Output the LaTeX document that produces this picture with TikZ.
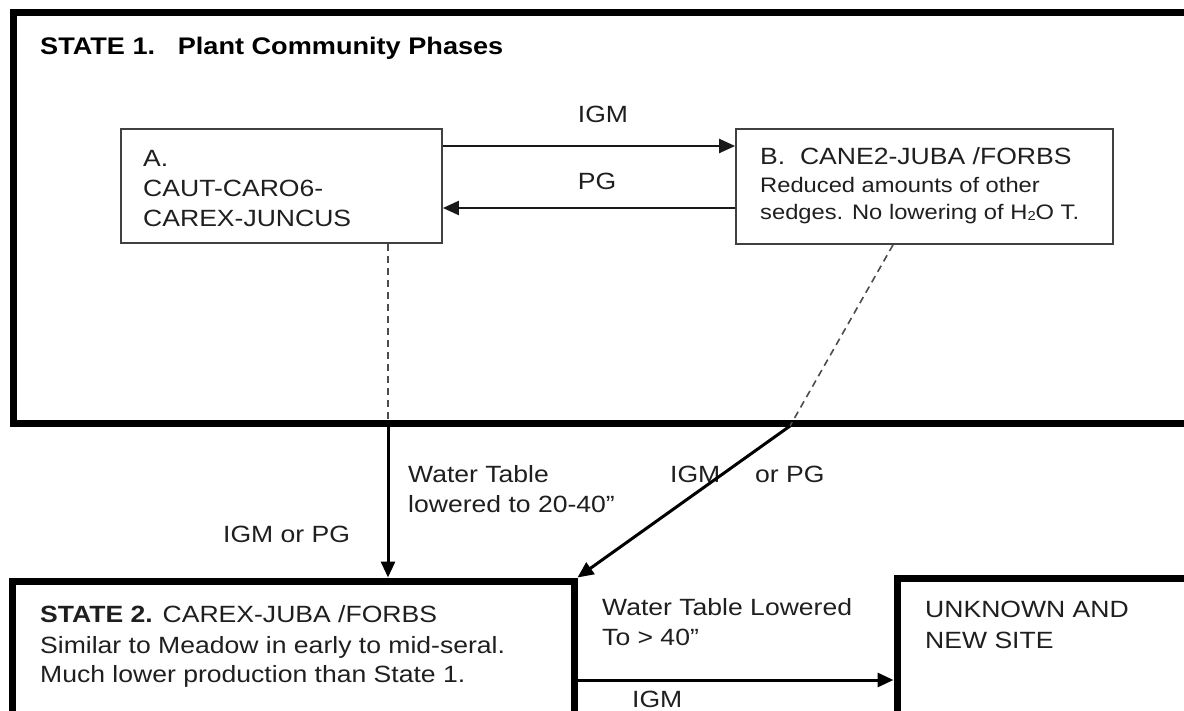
\documentclass[tikz,border=0pt]{standalone}
\usepackage{fontspec}
\setmainfont{Liberation Sans}[FakeStretch=1.13]
\usetikzlibrary{arrows.meta}
\begin{document}
\begin{tikzpicture}[x=1pt,y=-1pt,
  statebox/.style={draw=black,line width=7pt,rectangle,inner sep=0pt},
  phasebox/.style={draw=black!75,line width=1.8pt,rectangle,inner sep=0pt},
  txt/.style={anchor=base west,inner sep=0pt,text=black!88,font=\fontsize{23.5}{28}\selectfont},
  smalltxt/.style={txt,font=\fontsize{21}{25}\selectfont},
  ctxt/.style={txt,anchor=base},
  thinarrow/.style={draw=black!90,line width=2.2pt,-{Triangle[length=16pt,width=14pt]}},
  thickarrow/.style={draw=black,line width=3pt,-{Triangle[length=16pt,width=14pt]}},
  dashline/.style={draw=black!70,line width=1.6pt,dash pattern=on 7pt off 5pt}]
\useasboundingbox (0,0) rectangle (1184,711);
\fill[white] (0,0) rectangle (1184,711);
\clip (0,0) rectangle (1184,711);

% boxes
\node[statebox,minimum width=1237pt,minimum height=410pt] (S1) at (631.5,218) {};
\node[phasebox,minimum width=321pt,minimum height=114pt] (A) at (281.5,186) {};
\node[phasebox,minimum width=377pt,minimum height=115pt] (B) at (924.5,186.5) {};
\node[statebox,minimum width=561.5pt,minimum height=179pt] (S2) at (293.25,670.5) {};
\node[statebox,minimum width=353pt,minimum height=182pt] (U) at (1073.5,669) {};

% helper coordinates
\coordinate (ya) at (0,146);
\coordinate (yb) at (0,208);
\coordinate (xa) at (388,0);
\coordinate (xb) at (893,0);
\coordinate (ja) at (388,423);
\coordinate (jb) at (790,426);
\coordinate (yc) at (0,680);

% texts
\node[txt,text=black,font=\bfseries\fontsize{24}{28}\selectfont] (t1) at (40,55) {STATE 1.\ \ \ Plant Community Phases};
\node[txt] (a1) at (143,167) {A.};
\node[txt] (a2) at (143,197) {CAUT-CARO6-};
\node[txt] (a3) at (143,227) {CAREX-JUNCUS};
\node[txt] (b1) at (760,165) {B.\ \ CANE2-JUBA /FORBS};
\node[smalltxt] (b2) at (760,193) {Reduced amounts of other};
\node[smalltxt] (b3) at (760,220) {sedges. No lowering of H\raisebox{-0.5pt}{\fontsize{13}{13}\selectfont 2}O T.};
\node[ctxt] (l1) at (603,123) {IGM};
\node[ctxt] (l2) at (597,190) {PG};
\node[txt] (w1) at (408,482) {Water Table};
\node[txt] (w2) at (408,512) {lowered to 20-40”};
\node[txt] (l3) at (670,482) {IGM};
\node[txt] (l4) at (755,482) {or PG};
\node[txt] (l5) at (223,542) {IGM or PG};
\node[txt] (s1) at (40,622) {\textbf{STATE 2.} CAREX-JUBA /FORBS};
\node[txt] (s2) at (40,653) {Similar to Meadow in early to mid-seral.};
\node[txt] (s3) at (40,682) {Much lower production than State 1.};
\node[txt] (u1) at (925,617) {UNKNOWN AND};
\node[txt] (u2) at (925,648) {NEW SITE};
\node[txt] (v1) at (602,615) {Water Table Lowered};
\node[txt] (v2) at (602,645) {To > 40”};
\node[txt] (l6) at (632,707) {IGM};

% connectors
\draw[thinarrow] (A.east |- ya) -- (B.west |- ya);
\draw[thinarrow] (B.west |- yb) -- (A.east |- yb);
\draw[dashline] (A.south -| xa) -- (ja);
\draw[dashline] (B.south -| xb) -- (jb);
\draw[thickarrow] (ja) -- (ja |- S2.north);
\draw[thickarrow] (jb) -- (S2.north east);
\draw[thickarrow] (S2.east |- yc) -- (U.west |- yc);
\end{tikzpicture}
\end{document}
